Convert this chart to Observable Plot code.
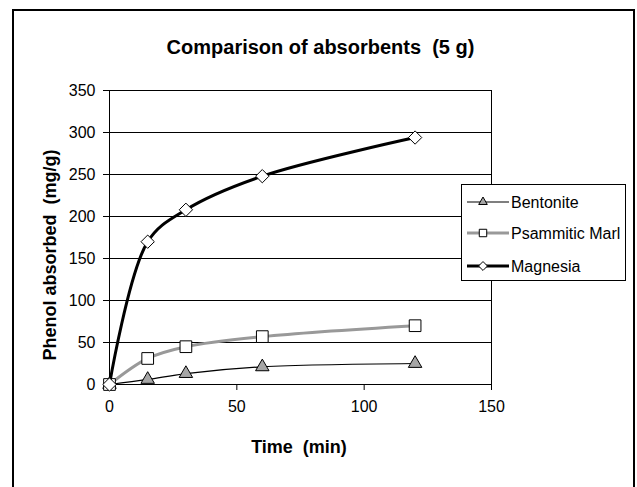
<!DOCTYPE html>
<html>
<head>
<meta charset="utf-8">
<script src="https://cdn.jsdelivr.net/npm/d3@7"></script>
<script src="https://cdn.jsdelivr.net/npm/@observablehq/plot@0.6"></script>
<style>
  body { margin: 0; background: #fff; }
  #chart { position: relative; width: 637px; height: 487px; overflow: hidden;
           font-family: "Liberation Sans", Arial, sans-serif; color: #000; }
  #chart svg.plot { position: absolute; left: 0; top: 0; }
  #border { position: absolute; left: 12px; top: 9px; width: 623px; height: 500px;
            border: 2px solid #000; box-sizing: border-box; }
  .lbl { position: absolute; white-space: pre; font-weight: bold; text-align: center; }
  #title { left: 2px; top: 36px; width: 637px; font-size: 20px; line-height: 22px; }
  #xlabel { left: 199px; top: 437px; width: 200px; font-size: 18px; line-height: 20px; }
  #ylabel { left: -100px; top: 245px; width: 300px; font-size: 18px; line-height: 20px;
            transform: rotate(-90deg); }
  #legend { position: absolute; left: 461px; top: 184px; width: 165px; height: 97px;
            border: 1px solid #000; box-sizing: border-box; background: #fff; }
</style>
</head>
<body>
<div id="chart">
  <div id="border"></div>
  <div id="title" class="lbl">Comparison of absorbents  (5 g)</div>
  <div id="xlabel" class="lbl">Time  (min)</div>
  <div id="ylabel" class="lbl">Phenol absorbed  (mg/g)</div>
  <div id="legend"></div>
</div>
<script>
// Sampling times (min)
const times = [0, 15, 30, 60, 120];
// Phenol absorbed (mg/g) for each absorbent
const bentonite = [0, 6, 13, 21, 25];
const psammiticMarl = [0, 31, 45, 57, 70];
const magnesia = [0, 170, 208, 248, 294];
const seriesNames = ["Bentonite", "Psammitic Marl", "Magnesia"];
// Axis ticks
const xTicks = [0, 50, 100, 150];
const yTicks = [0, 50, 100, 150, 200, 250, 300, 350];

const seriesValues = [bentonite, psammiticMarl, magnesia];
const rows = seriesNames.flatMap((name, i) =>
  times.map((t, j) => ({series: name, time: t, value: seriesValues[i][j]})));

// Appearance of each series: line and marker
const look = {
  "Bentonite":      {stroke: "#000", width: 1.2, symbol: "triangle", fill: "#a6a6a6", r: 5,   lr: 3.2},
  "Psammitic Marl": {stroke: "#999", width: 3,   symbol: "square",   fill: "#fff",    r: 6.6, lr: 4.2},
  "Magnesia":       {stroke: "#000", width: 3,   symbol: "diamond2", fill: "#fff",    r: 6,   lr: 4.0}
};

const marks = [
  Plot.ruleY(yTicks.filter(v => v > 0 && v < 350), {stroke: "#000", strokeWidth: 1}),
  Plot.frame({stroke: "#000", strokeWidth: 1}),
  Plot.axisY({ticks: yTicks, tickSize: 6, tickPadding: 8, tickFormat: d3.format("d"), label: null, fontSize: 16}),
  Plot.axisX({ticks: xTicks, tickSize: 6, tickPadding: 10, tickFormat: d3.format("d"), label: null, fontSize: 16})
];
for (const name of seriesNames) {
  const s = look[name];
  const data = rows.filter(d => d.series === name);
  marks.push(Plot.line(data, {x: "time", y: "value", stroke: s.stroke, strokeWidth: s.width, curve: "catmull-rom"}));
  marks.push(Plot.dot(data, {x: "time", y: "value", symbol: () => s.symbol, r: s.r, fill: s.fill, stroke: "#000", strokeWidth: 1}));
}

const plot = Plot.plot({
  width: 637, height: 487,
  marginTop: 90, marginLeft: 109, marginRight: 146, marginBottom: 103,
  x: {domain: [0, 150]},
  y: {domain: [0, 350]},
  symbol: {type: "identity"},
  style: {fontFamily: "Liberation Sans, Arial, sans-serif", fontSize: "16px", color: "#000", background: "transparent", overflow: "visible"},
  marks
});
plot.classList.add("plot");
const chart = document.getElementById("chart");
chart.insertBefore(plot, document.getElementById("title"));

// Legend: one row per series with a line sample, marker and name
const symbolTypes = {triangle: d3.symbolTriangle, square: d3.symbolSquare, diamond2: d3.symbolDiamond2};
const leg = d3.select("#legend").append("svg").attr("width", 163).attr("height", 95)
  .style("font-family", "Liberation Sans, Arial, sans-serif").style("font-size", "16px");
seriesNames.forEach((name, i) => {
  const s = look[name];
  const g = leg.append("g").attr("transform", `translate(0,${[17, 48, 81][i]})`);
  g.append("line").attr("x1", 5).attr("x2", 47).attr("stroke", s.stroke).attr("stroke-width", s.width);
  g.append("path").attr("transform", "translate(21,0)")
    .attr("d", d3.symbol(symbolTypes[s.symbol], Math.PI * s.lr * s.lr)())
    .attr("fill", s.fill).attr("stroke", "#000").attr("stroke-width", 1);
  g.append("text").attr("x", 49).attr("y", 6).text(name);
});
</script>
</body>
</html>
